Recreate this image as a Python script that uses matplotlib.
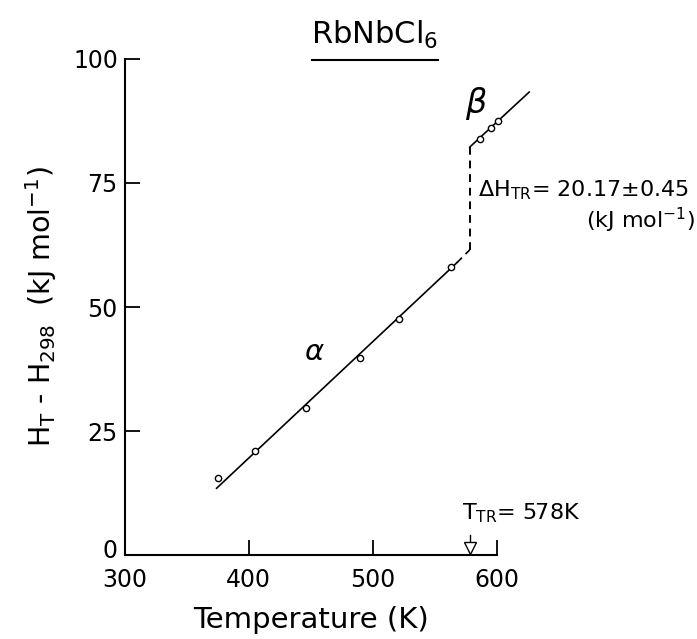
"""Enthalpy increment of RbNbCl6 versus temperature."""

import matplotlib as mpl
from matplotlib import pyplot as plt
from matplotlib.transforms import ScaledTranslation

mpl.use("Agg")

# measured points, alpha phase
alpha_temp = [375, 405, 446, 490, 521, 563]
alpha_enthalpy = [15.6, 21.0, 29.7, 39.8, 47.5, 58.1]

# measured points, beta phase
beta_temp = [586, 595, 601]
beta_enthalpy = [83.9, 86.0, 87.5]

# fitted lines
alpha_fit_temp = [374, 568]
alpha_fit_enthalpy = [13.5, 59.0]
alpha_ext_temp = [568, 578]
alpha_ext_enthalpy = [59.0, 61.5]
transition_temp = [578, 578]
transition_enthalpy = [61.5, 82.2]
beta_fit_temp = [578, 626]
beta_fit_enthalpy = [82.2, 93.3]

x_ticks = [300, 400, 500, 600]
y_ticks = [0, 25, 50, 75, 100]

plt.rcParams["font.family"] = ["DejaVu Sans"]

fig = plt.figure(figsize=(6.97, 6.39), dpi=100)
ax = fig.add_axes([0.179, 0.131, 0.534, 0.777])

ax.plot(alpha_fit_temp, alpha_fit_enthalpy, "-", color="black", linewidth=1.2)
ax.plot(alpha_ext_temp, alpha_ext_enthalpy, "--", color="black", linewidth=1.2,
        dashes=(4, 3))
ax.plot(transition_temp, transition_enthalpy, "--", color="black", linewidth=1.4,
        dashes=(4, 3))
ax.plot(beta_fit_temp, beta_fit_enthalpy, "-", color="black", linewidth=1.2,
        clip_on=False)
ax.plot(alpha_temp, alpha_enthalpy, "o", markersize=4.5, markerfacecolor="white",
        markeredgecolor="black", markeredgewidth=1.0, clip_on=False)
ax.plot(beta_temp, beta_enthalpy, "o", markersize=4.5, markerfacecolor="white",
        markeredgecolor="black", markeredgewidth=1.0, clip_on=False)

ax.set_xlim(300, 600)
ax.set_ylim(0, 100)
ax.set_xticks(x_ticks)
ax.set_yticks(y_ticks)
ax.tick_params(direction="in", length=11, width=1.3, labelsize=17)
ax.tick_params(axis="y", pad=5)
ax.tick_params(axis="x", pad=9)
for side in ("top", "right"):
    ax.spines[side].set_visible(False)
for side in ("left", "bottom"):
    ax.spines[side].set_linewidth(1.5)

# lift the "0" label a little, as in the original
fig.canvas.draw()
zero_label = ax.get_yticklabels()[0]
zero_label.set_transform(zero_label.get_transform()
                         + ScaledTranslation(0, 5 / 72, fig.dpi_scale_trans))

ax.set_xlabel("Temperature (K)", fontsize=21, labelpad=10)
ax.set_ylabel(r"H$_\mathregular{T}$ - H$_\mathregular{298}$  (kJ mol$^\mathregular{-1}$)",
              fontsize=20.5, labelpad=10)

# title with underline
ax.text(0.672, 1.048, r"RbNbCl$_\mathregular{6}$", transform=ax.transAxes,
        ha="center", va="center", fontsize=22)
ax.plot([0.503, 0.841], [0.997, 0.997], transform=ax.transAxes, color="black",
        linewidth=1.5, clip_on=False)

ax.text(453, 41, r"$\alpha$", fontsize=21, ha="center", va="center")
ax.text(583, 91, r"$\beta$", fontsize=24, ha="center", va="center")

ax.text(585, 73.5, r"$\Delta$H$_\mathregular{TR}$= 20.17$\pm$0.45",
        fontsize=16, ha="left", va="center")
ax.text(672, 67.5, r"(kJ mol$^\mathregular{-1}$)", fontsize=16, ha="left",
        va="center")

ax.text(572, 8.5, r"T$_\mathregular{TR}$= 578K", fontsize=16, ha="left",
        va="center")
# transition temperature arrow
ax.plot([578, 578], [4.0, 1.8], color="black", linewidth=1.0)
ax.plot([578], [1.4], "v", markersize=8, markerfacecolor="white",
        markeredgecolor="black", markeredgewidth=1.0)

fig.savefig("out.png", dpi=100)
plt.close(fig)
